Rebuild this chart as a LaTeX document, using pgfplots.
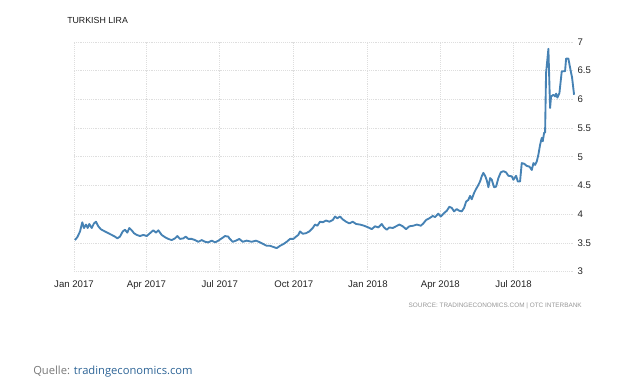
\documentclass[border=0pt]{standalone}
\usepackage{pgfplots}
\pgfplotsset{compat=1.18}
\usepackage{fontspec}
\setmainfont{Liberation Sans}
\newfontfamily\opensans{Open Sans}
\definecolor{lineblue}{RGB}{70,130,180}
\definecolor{gridgray}{RGB}{222,222,222}
\definecolor{ticktext}{RGB}{35,35,35}
\definecolor{srcgray}{RGB}{150,150,150}
\definecolor{quellegray}{RGB}{120,120,120}
\definecolor{linkblue}{RGB}{45,100,150}
\begin{document}
\begin{tikzpicture}[x=0.75pt,y=0.75pt]
\path[use as bounding box] (0,0) rectangle (619,381);
\begin{axis}[
  at={(55.5pt,82pt)}, anchor=south west,
  scale only axis, width=375pt, height=172.3pt,
  xmin=0, xmax=621, ymin=3, ymax=7,
  xtick={0,90,181,273,365,455,546},
  xticklabels={Jan 2017,Apr 2017,Jul 2017,Oct 2017,Jan 2018,Apr 2018,Jul 2018},
  ytick={3,3.5,4,4.5,5,5.5,6,6.5,7},
  yticklabel pos=right,
  yticklabels={3,3.5,4,4.5,5,5.5,6,6.5,7},
  grid=major,
  major grid style={gridgray, densely dotted, line width=0.6pt},
  axis line style={draw=none},
  major tick length=0pt,
  tick label style={font=\fontsize{7.2}{8}\selectfont, text=ticktext},
  xticklabel style={anchor=north, yshift=-3.5pt},
  yticklabel style={anchor=west, inner sep=0pt, xshift=2.5pt},
  clip=false,
]
\addplot[lineblue, line width=1.4pt, line join=round] coordinates {
(1.2,3.55) (4.1,3.60) (7.5,3.70) (10.3,3.86) (12.4,3.76) (14.9,3.82) (17.0,3.76) (19.0,3.83)
(22.0,3.76) (24.8,3.84) (27.3,3.87) (30.2,3.79) (33.2,3.74) (35.7,3.72) (38.5,3.70) (42.6,3.67)
(46.8,3.64) (50.9,3.61) (53.8,3.58) (57.1,3.61) (60.5,3.70) (63.4,3.73) (66.2,3.68) (68.7,3.76)
(71.7,3.72) (74.5,3.67) (77.9,3.64) (82.0,3.62) (86.1,3.64) (90.3,3.62) (94.4,3.67) (98.5,3.72)
(101.9,3.68) (104.7,3.72) (108.9,3.64) (113.0,3.60) (117.1,3.57) (121.4,3.55) (125.5,3.58)
(128.3,3.62) (131.7,3.57) (135.8,3.58) (138.8,3.61) (142.0,3.57) (146.2,3.57) (150.3,3.55)
(154.4,3.52) (158.6,3.55) (162.7,3.52) (166.8,3.51) (171.1,3.54) (175.2,3.51) (179.3,3.54)
(183.5,3.58) (187.6,3.62) (191.7,3.61) (192.9,3.58) (197.1,3.52) (201.2,3.54) (205.3,3.57)
(209.6,3.52) (214.5,3.54) (220.7,3.52) (226.1,3.54) (231.1,3.51) (235.2,3.48) (239.4,3.45)
(243.5,3.45) (247.6,3.43) (251.8,3.41) (255.9,3.45) (260.0,3.48) (264.2,3.52) (268.3,3.57)
(272.4,3.57) (275.8,3.61) (278.6,3.64) (280.7,3.70) (284.1,3.66) (288.2,3.67) (292.3,3.70)
(296.5,3.76) (299.4,3.82) (302.2,3.80) (305.6,3.87) (308.9,3.86) (313.0,3.89) (317.1,3.87)
(321.4,3.90) (324.2,3.96) (327.1,3.93) (330.4,3.96) (333.8,3.91) (337.9,3.87) (342.0,3.84)
(346.2,3.87) (350.3,3.83) (355.3,3.82) (360.2,3.80) (365.6,3.77) (369.8,3.74) (373.9,3.79)
(378.0,3.77) (382.2,3.83) (385.1,3.77) (388.4,3.73) (391.7,3.77) (395.9,3.76) (400.0,3.79)
(404.1,3.82) (408.3,3.79) (412.4,3.74) (416.5,3.79) (421.5,3.80) (425.7,3.82) (430.7,3.80)
(433.9,3.84) (437.3,3.90) (441.4,3.93) (445.6,3.97) (448.4,3.95) (452.5,4.01) (455.5,3.96)
(459.6,4.02) (463.0,4.06) (466.2,4.13) (469.2,4.11) (472.0,4.05) (475.4,4.09) (478.6,4.06)
(481.6,4.05) (484.5,4.11) (487.0,4.22) (489.8,4.25) (491.9,4.32) (494.0,4.26) (496.9,4.37)
(499.4,4.44) (502.2,4.51) (504.3,4.57) (506.4,4.66) (508.4,4.72) (510.6,4.67) (512.7,4.59)
(514.7,4.47) (516.8,4.63) (518.9,4.60) (521.7,4.47) (524.2,4.48) (527.1,4.63) (530.1,4.73)
(533.3,4.75) (536.6,4.73) (539.5,4.67) (543.7,4.66) (545.7,4.60) (549.1,4.67) (551.2,4.57)
(554.0,4.57) (556.1,4.89) (559.0,4.88) (562.4,4.84) (565.6,4.83) (568.6,4.77) (570.6,4.89)
(572.7,4.86) (574.8,4.92) (576.8,5.04) (578.9,5.21) (581.0,5.33) (582.2,5.27) (583.9,5.42)
(585.1,5.42) (586.3,6.46) (589.2,6.88) (591.3,5.85) (592.5,6.05) (595.4,6.08) (597.5,6.05)
(598.8,6.10) (600.4,6.03) (602.9,6.11) (605.8,6.49) (609.9,6.49) (611.2,6.71) (614.0,6.71)
(617.0,6.49) (618.6,6.38) (621.1,6.08)
};
\end{axis}
\node[anchor=west, inner sep=0pt, font=\fontsize{6.6}{8}\selectfont, text=black!90] at (67,361) {TURKISH LIRA};
\node[anchor=east, inner sep=0pt, font=\fontsize{4.8}{6}\selectfont, text=srcgray] at (582,75.5) {SOURCE: TRADINGECONOMICS.COM \textbar\ OTC INTERBANK};
\node[anchor=west, inner sep=0pt, font=\opensans\fontsize{8.4}{10}\selectfont] at (33,9.5) {\textcolor{quellegray}{Quelle:} \textcolor{linkblue}{tradingeconomics.com}};
\end{tikzpicture}
\end{document}
